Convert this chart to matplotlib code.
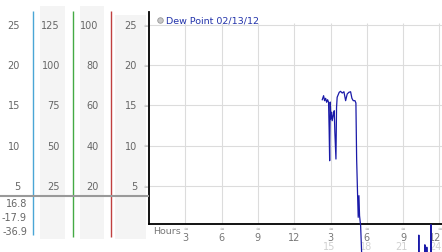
import matplotlib
matplotlib.use("Agg")
import matplotlib.pyplot as plt
from matplotlib.patches import Rectangle

# dew point trace (hours since midnight, deg)
hours = [14.32, 14.43, 14.51, 14.60, 14.68, 14.76, 14.84, 14.89, 14.93, 14.98,
         15.03, 15.09, 15.14, 15.22, 15.31, 15.36, 15.45, 15.50, 15.55, 15.72,
         15.83, 15.97, 16.11, 16.25, 16.38, 16.52, 16.66, 16.77, 16.88, 17.02,
         17.10, 17.16, 17.24, 17.29, 17.35, 17.40, 17.49, 17.57, 17.65, 18.0,
         19.0, 20.0, 21.0, 22.0, 22.25, 22.30, 22.35, 22.75, 22.80, 22.85,
         22.93, 22.96, 23.0, 23.25, 23.30, 23.35]
dew = [15.72, 16.22, 15.60, 15.89, 15.40, 15.72, 15.40, 11.87, 8.14, 15.43,
       13.32, 14.16, 13.11, 13.73, 14.35, 11.67, 8.35, 14.78, 16.02, 16.64,
       16.76, 16.55, 16.71, 15.60, 16.43, 16.64, 16.71, 15.89, 15.60, 15.60,
       15.31, 8.35, 3.80, 1.11, 3.80, 1.31, 0.07, -3.2, -12.0, -17.5,
       -22.0, -30.0, -36.9, -25.0, -18.0, -1.1, -18.0, -16.0, -2.3, -15.0,
       -14.0, -2.6, -14.0, -10.0, 0.2, -17.9]

x_ticks = [3, 6, 9, 12, 15, 18, 21, 24]
x_row1 = ["3", "6", "9", "12", "3", "6", "9", "12"]
x_row2 = ["", "", "", "", "15", "18", "21", "24"]
y_ticks = [25, 20, 15, 10, 5]
scale_a = ["25", "20", "15", "10", "5"]
scale_b = ["125", "100", "75", "50", "25"]
scale_c = ["100", "80", "60", "40", "20"]
scale_d = ["25", "20", "15", "10", "5"]
stats = ["16.8", "-17.9", "-36.9"]
legend_label = "Dew Point 02/13/12"

W, H = 442, 253
PXU = 8.05          # pixels per degree


def v(ypx):
    # pixel row -> value on the shared y scale
    return 5 + (187 - ypx) / PXU


plt.rcParams["font.family"] = "DejaVu Sans"
fig = plt.figure(figsize=(W / 100, H / 100), dpi=100)
fig.patch.set_facecolor("white")

ylim = (v(225), v(13))
xmax = (W - 149) / 36.3 * 3

ax = fig.add_axes([149 / W, (H - 225) / H, (W - 149) / W, (225 - 13) / H])
ax.set_xlim(0, xmax)
ax.set_ylim(*ylim)
ax.set_facecolor("white")
for s in ("top", "right"):
    ax.spines[s].set_visible(False)
for s in ("left", "bottom"):
    ax.spines[s].set_color("black")
    ax.spines[s].set_linewidth(1.3)
    ax.spines[s].set_zorder(3)
ax.set_xticks([])
ax.set_yticks([])

ax.hlines(y_ticks, 0, xmax, color="#dcdcdc", lw=0.8, zorder=1)
ax.vlines(x_ticks, ylim[0], v(24), color="#dcdcdc", lw=0.8, zorder=1)

ax.plot(hours, dew, color="#1a1aa8", lw=0.9, clip_on=False, zorder=4)

# legend
ax.plot([0.91], [v(20.7)], "o", ms=4, mfc="#c8c8c8", mec="#999999",
        mew=0.6, clip_on=False)
ax.text(1.40, v(20.7), legend_label, color="#2233aa", fontsize=6.8,
        va="center", ha="left")

# x labels
ax.text(0.33, v(232), "Hours", color="#777777", fontsize=6.8,
        ha="left", va="center")
for xt, a, b in zip(x_ticks, x_row1, x_row2):
    # the last tick sits on the picture edge: keep its labels inside
    last = xt == x_ticks[-1]
    tx = xmax - 0.03 if last else xt
    ha = "right" if last else "center"
    ax.text(xt, v(229.5), "\u2248", color="#aaaaaa", fontsize=4,
            ha="center", va="center", clip_on=False)
    ax.text(tx, v(238.5), a, color="#777777", fontsize=7,
            ha=ha, va="center", clip_on=False)
    if b:
        ax.text(tx if last else xt - 0.1, v(247.5), b, color="#d0d0d0",
                fontsize=7, ha=ha, va="center", clip_on=False)

# left scale panel shares the y scale
lx = fig.add_axes([0, (H - 225) / H, 149 / W, (225 - 13) / H])
lx.set_xlim(0, 149)
lx.set_ylim(*ylim)
lx.axis("off")

for x0, x1, top in [(40, 65, 7), (80, 104, 7), (115, 146, 16)]:
    lx.add_patch(Rectangle((x0, v(240)), x1 - x0, v(top) - v(240),
                           facecolor="#f4f4f4", edgecolor="none",
                           clip_on=False, zorder=0))

lx.vlines(33, v(236), v(12), color="#4aa6d6", lw=1.0, clip_on=False)
lx.vlines(72.5, v(238), v(12), color="#44aa44", lw=1.0, clip_on=False)
lx.vlines(111, v(238), v(12), color="#c04040", lw=1.0, clip_on=False)
lx.hlines(v(197), 0, 149, color="#999999", lw=1.5, clip_on=False, zorder=3)

for col_x, labels in [(20, scale_a), (60, scale_b), (98.5, scale_c), (137, scale_d)]:
    for yt, lab in zip(y_ticks, labels):
        lx.text(col_x, yt, lab, color="#666666", fontsize=7,
                ha="right", va="center")
for yt in y_ticks:
    lx.text(146, yt, "\u2248", color="#aaaaaa", fontsize=4,
            ha="center", va="center")

for yp, lab in zip([204, 218, 232], stats):
    lx.text(27, v(yp), lab, color="#666666", fontsize=7,
            ha="right", va="center", clip_on=False)

fig.savefig("out.png", dpi=100, facecolor="white")
